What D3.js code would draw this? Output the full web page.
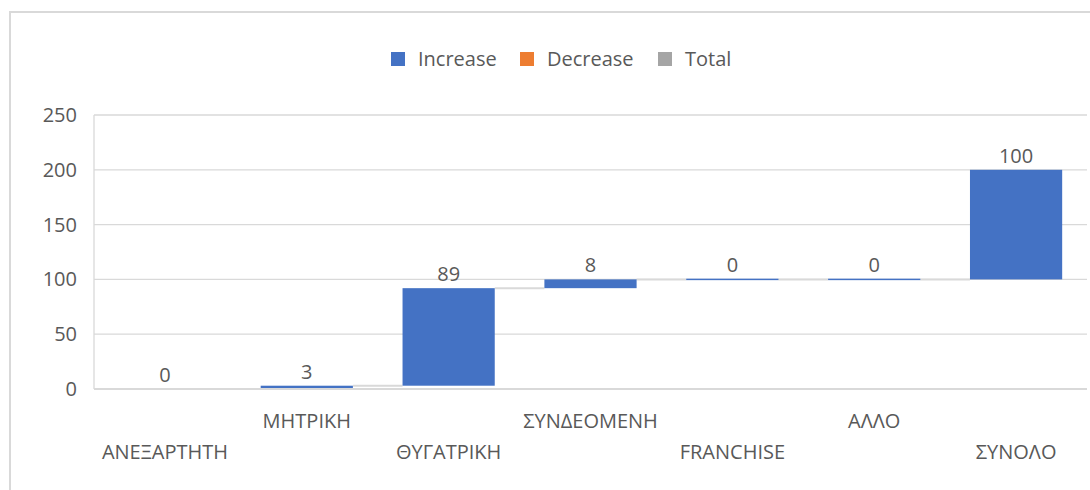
<!DOCTYPE html>
<html>
<head>
<meta charset="utf-8">
<script src="https://cdn.jsdelivr.net/npm/d3@7"></script>
<style>
  html, body { margin: 0; padding: 0; background: #fff; }
  svg text { font-family: "Open Sans", "Noto Sans", sans-serif; fill: #595959; }
</style>
</head>
<body>
<svg id="chart" width="1090" height="490"></svg>
<script>
const categories = ["ΑΝΕΞΑΡΤΗΤΗ", "ΜΗΤΡΙΚΗ", "ΘΥΓΑΤΡΙΚΗ", "ΣΥΝΔΕΟΜΕΝΗ", "FRANCHISE", "ΑΛΛΟ", "ΣΥΝΟΛΟ"];
const values = [0, 3, 89, 8, 0, 0, 100];
const valueLabels = ["0", "3", "89", "8", "0", "0", "100"];
const yTicks = [0, 50, 100, 150, 200, 250];
const legendNames = ["Increase", "Decrease", "Total"];
const legendColors = ["#4472C4", "#ED7D31", "#A5A5A5"];

const svg = d3.select("#chart");
const FS = 20;

// chart border
svg.append("rect").attr("x", 10).attr("y", 12).attr("width", 1100).attr("height", 500)
  .attr("fill", "none").attr("stroke", "#d9d9d9").attr("stroke-width", 2);

const plotLeft = 94, plotRight = 1087, plotTop = 115, plotBottom = 389;
const x = d3.scaleBand().domain(categories).range([plotLeft, plotRight]).paddingInner(0.35).paddingOuter(0.175);
const y = d3.scaleLinear().domain([0, 250]).range([plotBottom, plotTop]);

// waterfall data
const ends = d3.cumsum(values);
const data = categories.map((c, i) => ({
  cat: c, value: values[i], label: valueLabels[i],
  start: ends[i] - values[i], end: ends[i]
}));

// gridlines
svg.append("g").selectAll("line").data(yTicks.filter(t => t > 0)).join("line")
  .attr("x1", plotLeft).attr("x2", plotRight)
  .attr("y1", d => y(d)).attr("y2", d => y(d))
  .attr("stroke", "#d9d9d9").attr("stroke-width", 1.3);
svg.append("line").attr("x1", plotLeft).attr("x2", plotLeft).attr("y1", y(250)).attr("y2", y(0))
  .attr("stroke", "#d9d9d9").attr("stroke-width", 1.3);

// y axis labels
const yAxis = d3.axisLeft(y).tickValues(yTicks).tickSize(0).tickPadding(17);
const gy = svg.append("g").attr("transform", `translate(${plotLeft},0)`).call(yAxis);
gy.select(".domain").remove();
gy.selectAll("text").attr("font-size", FS).style("fill", "#595959")
  .attr("font-family", "'Open Sans', sans-serif");

// connectors
svg.append("g").selectAll("line").data(data.slice(0, -1)).join("line")
  .attr("x1", d => x(d.cat) + x.bandwidth())
  .attr("x2", (d, i) => x(categories[i + 1]))
  .attr("y1", d => y(d.end)).attr("y2", d => y(d.end))
  .attr("stroke", "#d9d9d9").attr("stroke-width", 2);

// bars
svg.append("g").selectAll("rect").data(data).join("rect")
  .attr("x", d => x(d.cat))
  .attr("width", x.bandwidth())
  .attr("y", d => d.value === 0 ? y(d.end) - 0.75 : y(d.end))
  .attr("height", d => Math.max(1.5, y(d.start) - y(d.end)))
  .attr("fill", legendColors[0]);

// baseline (category axis line) drawn over bars
svg.append("line").attr("x1", plotLeft).attr("x2", plotRight)
  .attr("y1", y(0)).attr("y2", y(0))
  .attr("stroke", "#d9d9d9").attr("stroke-width", 2);

// data labels
svg.append("g").selectAll("text").data(data).join("text")
  .attr("x", d => x(d.cat) + x.bandwidth() / 2)
  .attr("y", d => y(d.end) - 7)
  .attr("text-anchor", "middle")
  .attr("font-size", FS)
  .text(d => d.label);

// x labels, staggered
const xAxis = d3.axisBottom(x).tickSize(0).tickPadding(0);
const gx = svg.append("g").attr("transform", `translate(0,${plotBottom})`).call(xAxis);
gx.select(".domain").remove();
gx.selectAll("text")
  .attr("font-size", FS)
  .attr("font-family", "'Open Sans', sans-serif")
  .style("fill", "#595959")
  .attr("dy", null)
  .attr("y", (d, i) => i % 2 === 0 ? 70 : 39);

// legend
const legend = svg.append("g");
const legendX = [391, 520, 658];
legendNames.forEach((n, i) => {
  legend.append("rect").attr("x", legendX[i]).attr("y", 52).attr("width", 14).attr("height", 14)
    .attr("fill", legendColors[i]);
  legend.append("text").attr("x", legendX[i] + 27).attr("y", 66)
    .attr("font-size", FS).text(n);
});
</script>
</body>
</html>
